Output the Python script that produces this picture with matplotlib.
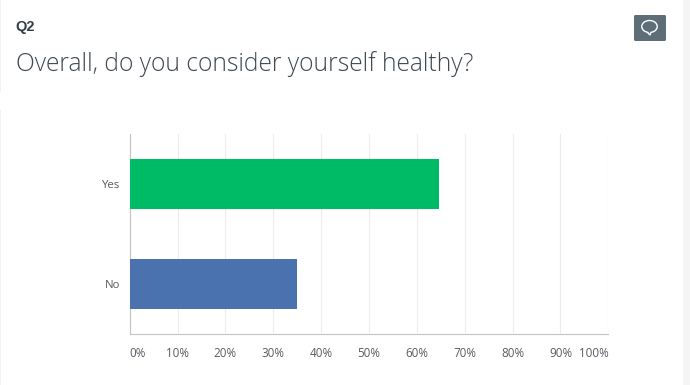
import matplotlib
matplotlib.use('Agg')
import matplotlib.pyplot as plt
from matplotlib.patches import Rectangle, FancyBboxPatch, Ellipse, Polygon

categories = ['No', 'Yes']
values = [35.0, 64.7]
bar_colors = ['#4a72ae', '#00bb66']
ticks = [0, 10, 20, 30, 40, 50, 60, 70, 80, 90, 100]
tick_labels = ['0%', '10%', '20%', '30%', '40%', '50%', '60%', '70%', '80%', '90%', '100%']

W, H = 690, 385
plt.rcParams['font.family'] = ['Open Sans', 'DejaVu Sans']
fig = plt.figure(figsize=(W / 100, H / 100), dpi=100, facecolor='white')

# page layer in pixel coordinates
bg = fig.add_axes([0, 0, 1, 1])
bg.set_xlim(0, W)
bg.set_ylim(H, 0)
bg.axis('off')
bg.add_patch(Rectangle((0, 0), 1.2, 92, color='#f2f2f2', lw=0))
bg.add_patch(Rectangle((0, 110), 1.2, 275, color='#f2f2f2', lw=0))
bg.add_patch(Rectangle((683, 0), 7, H, color='#f5f5f5', lw=0))
bg.text(15.5, 27, 'Q2', fontsize=10.5, fontweight='bold', color='#333e48', va='center', ha='left', family=['Liberation Sans'])
bg.text(15.5, 64.5, 'Overall, do you consider yourself healthy?', fontsize=17.75, fontweight='light', color='#3f4853', va='center', ha='left')

# comment button
bg.add_patch(FancyBboxPatch((634, 15), 32, 26, boxstyle='round,pad=0,rounding_size=1.5', fc='#5d6e78', ec='none'))
bg.add_patch(Polygon([(647, 32), (650, 35), (651, 32)], closed=True, fc='#5d6e78', ec='white', lw=1))
bg.add_patch(Ellipse((649.5, 26.5), 15.5, 12, fc='#5d6e78', ec='white', lw=1))
bg.add_patch(Polygon([(647.6, 31.2), (649.9, 33.6), (650.6, 31.2)], closed=True, fc='#5d6e78', ec='none'))

# chart
left, right, top, bottom = 129.7, 608.3, 134, 334
ax = fig.add_axes([left / W, 1 - bottom / H, (right - left) / W, (bottom - top) / H])
ax.patch.set_alpha(0)
ax.barh(categories, values, height=0.5, color=bar_colors, zorder=3)
ax.set_xlim(0, 100)
ax.set_ylim(-0.5, 1.5)
ax.set_xticks(ticks)
ax.set_xticklabels(tick_labels, fontsize=8.4, color='#555c63')
labels = ax.get_xticklabels()
labels[0].set_ha('left')
labels[-1].set_ha('right')
ax.grid(axis='x', color='#ececec', lw=0.8, zorder=0)
ax.tick_params(axis='x', length=0, pad=9.5)
ax.tick_params(axis='y', length=0, pad=7, labelsize=8.2, labelcolor='#555c63')
ax.spines['top'].set_visible(False)
ax.spines['right'].set_visible(False)
ax.spines['left'].set_color('#c4c4c4')
ax.spines['bottom'].set_color('#c4c4c4')

fig.savefig('out.png', dpi=100)
